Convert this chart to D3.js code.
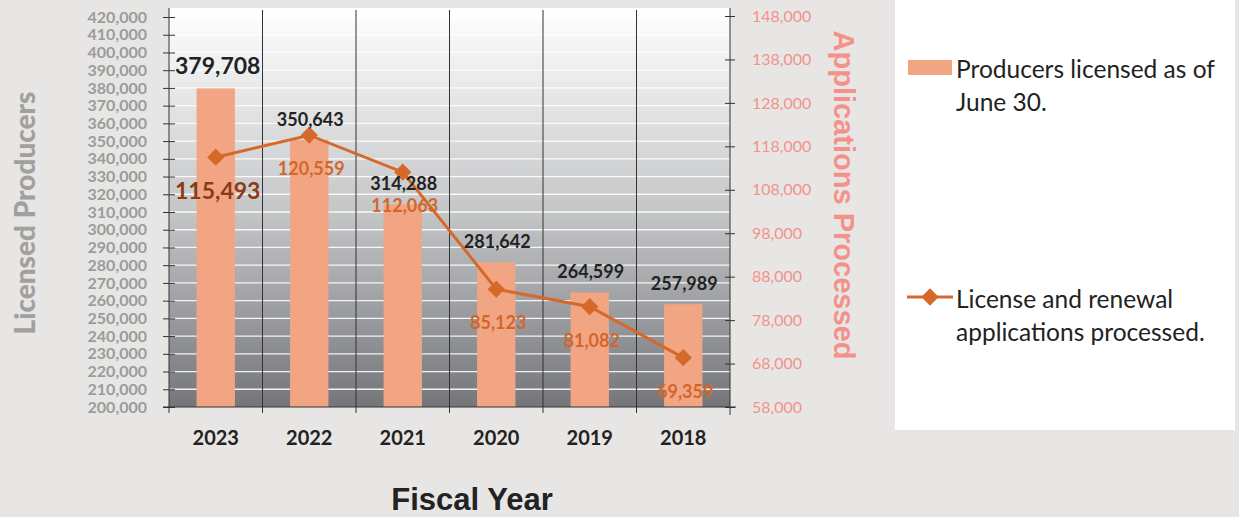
<!DOCTYPE html>
<html>
<head>
<meta charset="utf-8">
<script src="https://cdn.jsdelivr.net/npm/d3@7"></script>
<style>
  body { margin: 0; background: #e7e6e4; }
  svg { display: block; }
</style>
</head>
<body>
<div id="vis"></div>
<script>
const years = ["2023", "2022", "2021", "2020", "2019", "2018"];
const producers = [379708, 350643, 314288, 281642, 264599, 257989];
const applications = [115493, 120559, 112063, 85123, 81082, 69359];
const leftTicks = d3.range(200000, 420001, 10000);
const rightTicks = d3.range(58000, 148001, 10000);

const W = 1239, H = 517;
const plot = { left: 169, right: 730, top: 8, bottom: 407 };

const svg = d3.select("#vis").append("svg").attr("width", W).attr("height", H);

const x = d3.scaleBand().domain(years).range([plot.left, plot.right]);
const yL = d3.scaleLinear().domain([200000, 420000]).range([407, 17]);
const yR = d3.scaleLinear().domain([58000, 148000]).range([407, 16]);

// plot background gradient
const defs = svg.append("defs");
const grad = defs.append("linearGradient")
  .attr("id", "bg").attr("x1", "0%").attr("y1", "0%").attr("x2", "0%").attr("y2", "100%");
grad.append("stop").attr("offset", "0%").attr("stop-color", "#ffffff");
grad.append("stop").attr("offset", "50%").attr("stop-color", "#c6c7c9");
grad.append("stop").attr("offset", "100%").attr("stop-color", "#75767a");

svg.append("rect")
  .attr("x", plot.left).attr("y", plot.top)
  .attr("width", plot.right - plot.left).attr("height", plot.bottom - plot.top)
  .attr("fill", "url(#bg)");

// horizontal white gridlines
svg.append("g").selectAll("line").data(leftTicks.slice(1)).join("line")
  .attr("x1", plot.left).attr("x2", plot.right)
  .attr("y1", d => yL(d)).attr("y2", d => yL(d))
  .attr("stroke", "#ffffff").attr("stroke-width", 1.3).attr("opacity", 0.9);

// vertical category boundaries
const bounds = years.map(d => x(d)).concat([plot.right]);
svg.append("g").selectAll("line").data(bounds.slice(1, -1)).join("line")
  .attr("x1", d => d).attr("x2", d => d)
  .attr("y1", plot.top + 2).attr("y2", plot.bottom + 6)
  .attr("stroke", "#333").attr("stroke-width", 1);

// bars
const barW = x.bandwidth() * 0.41;
svg.append("g").selectAll("rect").data(years).join("rect")
  .attr("x", d => x(d) + x.bandwidth() / 2 - barW / 2)
  .attr("width", barW)
  .attr("y", (d, i) => yL(producers[i]))
  .attr("height", (d, i) => plot.bottom - yL(producers[i]))
  .attr("fill", "#f2a583");

// left axis
const leftAxis = svg.append("g")
  .attr("transform", `translate(${plot.left},0)`)
  .call(d3.axisLeft(yL).tickValues(leftTicks).tickFormat(d3.format(",")).tickSize(6).tickPadding(16));
leftAxis.select(".domain").attr("d", `M0,${plot.top}V${plot.bottom + 6}`).attr("stroke", "#333");
leftAxis.selectAll(".tick line").attr("x1", -6).attr("x2", 6).attr("stroke", "#333");
leftAxis.selectAll(".tick text")
  .attr("fill", "#9b9b9b").style("font-family", "Lato, sans-serif")
  .style("font-weight", "bold").style("font-size", "16px");

// right axis
const rightAxis = svg.append("g")
  .attr("transform", `translate(${plot.right},0)`)
  .call(d3.axisRight(yR).tickValues(rightTicks).tickFormat(d3.format(",")).tickSize(5).tickPadding(17));
rightAxis.select(".domain").attr("d", `M0,${plot.top}V${plot.bottom + 8}`).attr("stroke", "#333");
rightAxis.selectAll(".tick line").attr("x1", -5).attr("x2", 5).attr("stroke", "#333");
rightAxis.selectAll(".tick text")
  .attr("fill", "#f4928a").style("font-family", "Lato, sans-serif")
  .style("font-size", "16px");

// bottom axis
svg.append("line")
  .attr("x1", plot.left - 6).attr("x2", plot.right + 6)
  .attr("y1", plot.bottom).attr("y2", plot.bottom)
  .attr("stroke", "#333");
const bottomAxis = svg.append("g")
  .attr("transform", `translate(0,${plot.bottom})`)
  .call(d3.axisBottom(x).tickSize(0).tickPadding(24));
bottomAxis.select(".domain").remove();
bottomAxis.selectAll(".tick text")
  .attr("fill", "#222").style("font-family", "Lato, sans-serif")
  .style("font-weight", "bold").style("font-size", "20px");

// line series
const cx = d => x(d) + x.bandwidth() / 2;
const line = d3.line().x(d => cx(d)).y((d, i) => yR(applications[i]));
svg.append("path").datum(years)
  .attr("d", line)
  .attr("fill", "none").attr("stroke", "#d4692a").attr("stroke-width", 3);

svg.append("g").selectAll("path").data(years).join("path")
  .attr("d", d3.symbol(d3.symbolDiamond2, 190))
  .attr("transform", (d, i) => `translate(${cx(d)},${yR(applications[i])})`)
  .attr("fill", "#d4692a");

// bar value labels
svg.append("g").selectAll("text").data(years).join("text")
  .attr("x", d => cx(d) + (d === "2023" ? 2 : 1))
  .attr("y", (d, i) => yL(producers[i]) - (i === 0 ? 23 : 21))
  .attr("text-anchor", "middle").attr("dominant-baseline", "central")
  .attr("fill", "#222").style("font-family", "Lato, sans-serif")
  .style("font-weight", "bold")
  .style("font-size", (d, i) => i === 0 ? "23px" : "18px")
  .text((d, i) => d3.format(",")(producers[i]));

// line value labels
svg.append("g").selectAll("text").data(years).join("text")
  .attr("x", d => cx(d) + 2)
  .attr("y", (d, i) => yR(applications[i]) + 33)
  .attr("text-anchor", "middle").attr("dominant-baseline", "central")
  .attr("fill", (d, i) => i === 0 ? "#8c3c15" : "#d2662b")
  .style("font-family", "Lato, sans-serif").style("font-weight", "bold")
  .style("font-size", (d, i) => i === 0 ? "23px" : "18px")
  .text((d, i) => d3.format(",")(applications[i]));

// axis titles
svg.append("text")
  .attr("transform", "translate(24,213) rotate(-90)")
  .attr("text-anchor", "middle").attr("dominant-baseline", "central")
  .attr("fill", "#a0a0a0").style("font-family", "Lato, sans-serif")
  .style("font-weight", "900").style("font-size", "28px")
  .text("Licensed Producers");

svg.append("text")
  .attr("transform", "translate(844,195) rotate(90)")
  .attr("text-anchor", "middle").attr("dominant-baseline", "central")
  .attr("fill", "#f4928a").style("font-family", "Liberation Sans, Arial, sans-serif")
  .style("font-weight", "bold").style("font-size", "29px")
  .text("Applications Processed");

svg.append("text")
  .attr("x", 472).attr("y", 499)
  .attr("text-anchor", "middle").attr("dominant-baseline", "central")
  .attr("fill", "#222").style("font-family", "Liberation Sans, Arial, sans-serif")
  .style("font-weight", "bold").style("font-size", "31px")
  .text("Fiscal Year");

// legend
const legend = svg.append("g");
legend.append("rect")
  .attr("x", 895).attr("y", 0).attr("width", 340).attr("height", 430)
  .attr("fill", "#ffffff");

legend.append("rect")
  .attr("x", 908).attr("y", 60).attr("width", 44).attr("height", 15)
  .attr("fill", "#f2a583");
legend.append("line")
  .attr("x1", 907).attr("x2", 953).attr("y1", 297).attr("y2", 297)
  .attr("stroke", "#d4692a").attr("stroke-width", 3);
legend.append("path")
  .attr("d", d3.symbol(d3.symbolDiamond2, 190))
  .attr("transform", "translate(930,297)")
  .attr("fill", "#d4692a");

const legendLines = [
  ["Producers licensed as of", 68],
  ["June 30.", 101],
  ["License and renewal", 298],
  ["applications processed.", 331]
];
legend.selectAll("text.lg").data(legendLines).join("text")
  .attr("class", "lg")
  .attr("x", 956).attr("y", d => d[1])
  .attr("dominant-baseline", "central")
  .attr("fill", "#222").style("font-family", "Lato, sans-serif")
  .style("font-size", "24.5px")
  .text(d => d[0]);
</script>
</body>
</html>
